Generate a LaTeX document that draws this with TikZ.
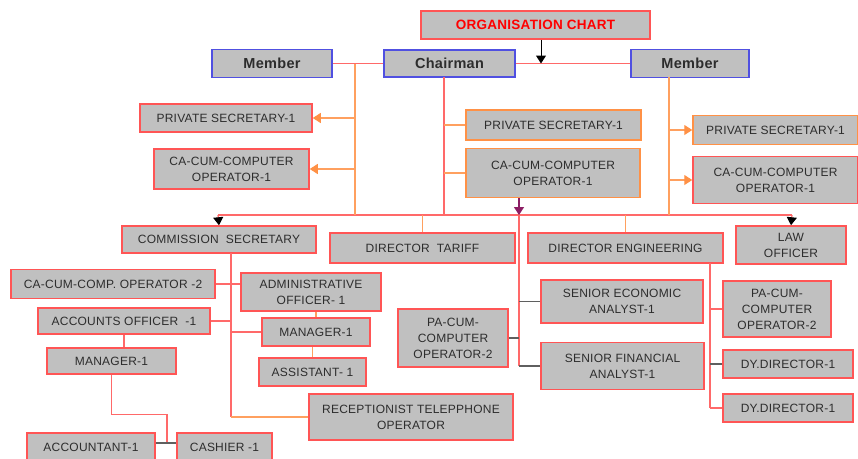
\documentclass[tikz,border=0pt]{standalone}
\usepackage{fontspec}
\setmainfont{Liberation Sans}[LetterSpace=2]
\usetikzlibrary{positioning,calc,arrows.meta}
\definecolor{boxgray}{RGB}{192,192,192}
\definecolor{boxred}{RGB}{255,85,85}
\definecolor{boxblue}{RGB}{80,80,225}
\definecolor{boxorange}{RGB}{255,145,70}
\definecolor{lnred}{RGB}{255,105,105}
\definecolor{lnorange}{RGB}{255,160,95}
\definecolor{lngray}{RGB}{95,95,95}
\definecolor{lnpurple}{RGB}{140,30,100}
\definecolor{txtgray}{RGB}{45,45,45}
\tikzset{
  post/.style={rectangle,draw=boxred,fill=boxgray,line width=1.5pt,text=txtgray,
    font=\fontsize{12}{16}\selectfont,align=center,inner sep=0pt},
  head/.style={post,draw=boxblue,font=\fontsize{14.5}{17}\selectfont\bfseries},
  pa/.style={post,draw=boxorange},
  rl/.style={draw=lnred,line width=1.2pt},
  ol/.style={draw=lnorange,line width=1.2pt},
  gl/.style={draw=lngray,line width=1.2pt},
  tip/.style={-{Triangle[width=10pt,length=8pt]}},
  otip/.style={-{Triangle[width=10pt,length=8pt,color=boxorange]}},
  btip/.style={-{Triangle[width=10pt,length=8pt,color=black]}},
}
\begin{document}
\begin{tikzpicture}[x=1pt,y=-1pt]
\clip (0,0) rectangle (858,458);
% top
\node [post,font=\fontsize{13.5}{16}\selectfont\bfseries,text=red,minimum width=229pt,minimum height=28pt] (title) at (535.5,25) {ORGANISATION CHART};
\node [head,minimum width=120pt,minimum height=28pt] (mem1) at (272,63.5) {Member};
\node [head,minimum width=131pt,minimum height=27pt] (chair) at (449.5,63.5) {Chairman};
\node [head,minimum width=118pt,minimum height=28pt] (mem2) at (690,63.5) {Member};
% secretaries
\node [post,minimum width=172pt,minimum height=28pt] (ps1) at (226,118) {PRIVATE SECRETARY-1};
\node [post,minimum width=155pt,minimum height=40pt] (ca1) at (231.5,169) {CA-CUM-COMPUTER\\OPERATOR-1};
\node [pa,minimum width=175pt,minimum height=30pt] (ps2) at (553.5,125) {PRIVATE SECRETARY-1};
\node [pa,minimum width=174pt,minimum height=49pt] (ca2) at (553,173) {CA-CUM-COMPUTER\\OPERATOR-1};
\node [pa,minimum width=165pt,minimum height=29pt] (ps3) at (775.5,130) {PRIVATE SECRETARY-1};
\node [post,minimum width=165pt,minimum height=47pt] (ca3) at (775.5,180) {CA-CUM-COMPUTER\\OPERATOR-1};
% second row
\node [post,minimum width=194pt,minimum height=27pt] (comsec) at (219,239.5) {COMMISSION\ \ SECRETARY};
\node [post,minimum width=185pt,minimum height=30pt] (dirt) at (422.5,248) {DIRECTOR\ \ TARIFF};
\node [post,minimum width=195pt,minimum height=30pt] (dire) at (625.5,248) {DIRECTOR ENGINEERING};
\node [post,minimum width=110pt,minimum height=38pt] (law) at (791,245) {LAW\\OFFICER};
% commission secretary side
\node [post,minimum width=204pt,minimum height=29pt] (cao2) at (113,284) {CA-CUM-COMP. OPERATOR -2};
\node [post,minimum width=140pt,minimum height=38pt] (admin) at (311,292) {ADMINISTRATIVE\\OFFICER- 1};
\node [post,minimum width=172pt,minimum height=26pt] (acc) at (124,321) {ACCOUNTS OFFICER\ \ -1};
\node [post,minimum width=108pt,minimum height=28pt] (man2) at (316,332) {MANAGER-1};
\node [post,minimum width=107pt,minimum height=28pt] (asst) at (312.5,372) {ASSISTANT- 1};
\node [post,minimum width=204pt,minimum height=46pt] (recep) at (411,417) {RECEPTIONIST TELEPPHONE\\OPERATOR};
\node [post,minimum width=129pt,minimum height=26pt] (man1) at (111.5,361) {MANAGER-1};
\node [post,minimum width=128pt,minimum height=28pt] (accn) at (91,447) {ACCOUNTANT-1};
\node [post,minimum width=95pt,minimum height=28pt] (cash) at (224.5,447) {CASHIER -1};
% middle and engineering side
\node [post,minimum width=110pt,minimum height=58pt] (paop) at (453,338) {PA-CUM-\\COMPUTER\\OPERATOR-2};
\node [post,minimum width=162pt,minimum height=43pt] (sea) at (622,301.5) {SENIOR ECONOMIC\\ANALYST-1};
\node [post,minimum width=163pt,minimum height=47pt] (sfa) at (622.5,366) {SENIOR FINANCIAL\\ANALYST-1};
\node [post,minimum width=108pt,minimum height=56pt] (pa2) at (777,309) {PA-CUM-\\COMPUTER\\OPERATOR-2};
\node [post,minimum width=130pt,minimum height=28pt] (dy1) at (788,364) {DY.DIRECTOR-1};
\node [post,minimum width=130pt,minimum height=28pt] (dy2) at (788,408) {DY.DIRECTOR-1};

% junction points
\coordinate (busL) at (218,215);
\coordinate (busR) at (792,215);
\coordinate (jl) at (355,63.5);
\coordinate (jc) at (444,77);
\coordinate (jr) at (669,77);
\coordinate (jm) at (519,215);
\coordinate (js) at (231,253);
\coordinate (je) at (710,263);
\coordinate (jk) at (167,443);

% top lines
\draw [rl] (mem1.east) -- (chair.west);
\draw [rl] (chair.east) -- (mem2.west);
\draw [tip,draw=black,line width=1pt] ([xshift=5.5pt]title.south) -- ([xshift=5.5pt]title.south |- chair.east);
\draw [rl] (busL) -- (busR);
\draw [ol] (jl) -- (jl |- busL);
\draw [ol,otip] (jl |- ps1) -- (ps1.east);
\draw [ol,otip] (jl |- ca1) -- (ca1.east);
\draw [rl] (jc) -- (jc |- busL);
\draw [ol] (jc |- ps2) -- (ps2.west);
\draw [ol] (jc |- ca2) -- (ca2.west);
\draw [ol] (jr) -- (jr |- busR);
\draw [ol,otip] (jr |- ps3) -- (ps3.west);
\draw [ol,otip] (jr |- ca3) -- (ca3.west);
\draw [draw=lnpurple,line width=1.2pt,tip] (jm |- ca2.south) -- (jm);
% second row
\draw [rl,btip] (busL) -- (comsec.north);
\draw [rl,btip] (busR) -- (law.north);
\draw [ol] (dirt.north |- busL) -- (dirt.north);
\draw [ol] (dire.north |- busL) -- (dire.north);
% middle branch
\draw [rl] (jm) -- (jm |- sfa);
\draw [gl] (jm |- sea) -- (sea.west);
\draw [gl] (jm |- sfa) -- (sfa.west);
\draw [gl] (paop.east) -- (paop.east -| jm);
% engineering branch
\draw [rl] (je) -- (je |- dy2);
\draw [rl] (je |- pa2) -- (pa2.west);
\draw [gl] (je |- dy1) -- (dy1.west);
\draw [rl] (je |- dy2) -- (dy2.west);
% commission secretary branch
\draw [rl] (js) -- (js |- recep);
\draw [ol] (js |- recep) -- (recep.west);
\draw [rl] (cao2.east) -- (cao2.east -| admin.west);
\draw [rl] (acc.east) -- (acc.east -| js);
\draw [rl] (js |- man2) -- (man2.west);
\draw [ol] (man2.north) -- (man2.north |- admin.south);
\draw [ol] (asst.north) -- (asst.north |- man2.south);
\draw [rl] (acc.south) -- (acc.south |- man1.north);
\draw [rl] (man1.south) -- ++(0,40) -| (jk);
\draw [gl] (accn.east |- jk) -- (cash.west |- jk);
\end{tikzpicture}
\end{document}
